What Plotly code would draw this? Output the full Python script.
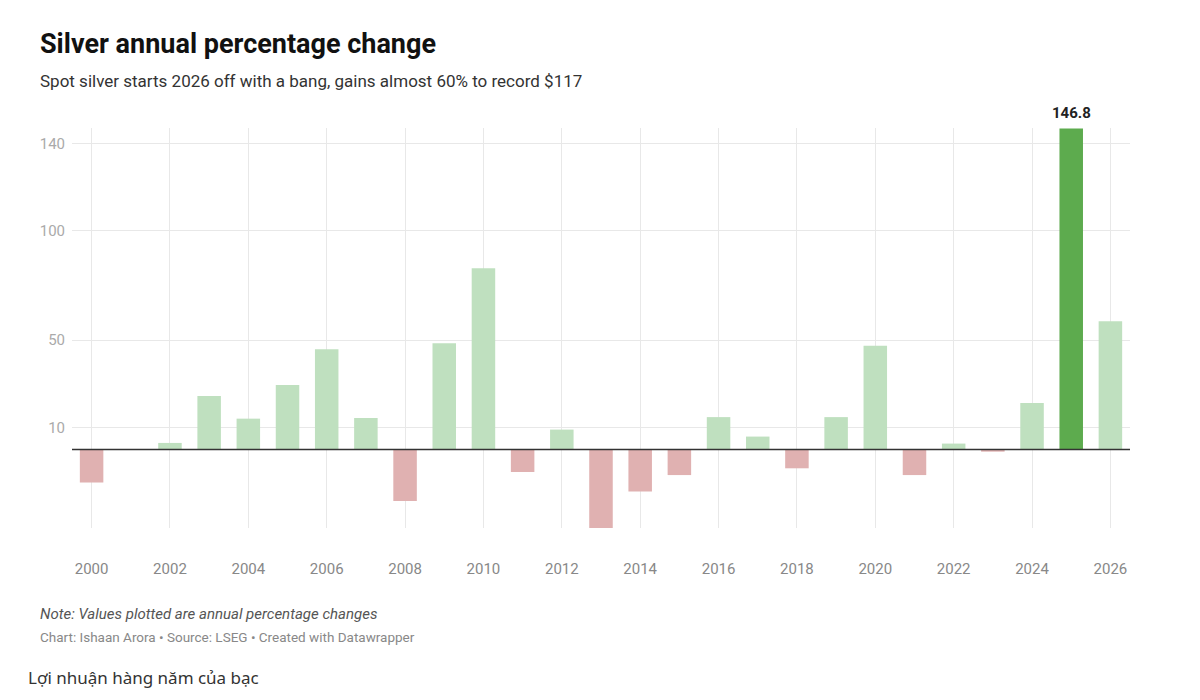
import plotly.graph_objects as go

# data
years = list(range(2000, 2027))
pct_change = [-15.1, 0.0, 3.0, 24.5, 14.1, 29.5, 45.8, 14.4, -23.6, 48.6,
              82.9, -10.3, 9.1, -35.9, -19.2, -11.7, 14.8, 5.9, -8.6, 14.8,
              47.4, -11.7, 2.7, -1.0, 21.2, 146.8, 58.6]
y_ticks = [10, 50, 100, 140]
x_ticks = list(range(2000, 2027, 2))
highlight_year = 2025

light_green = "#bfe0bf"
dark_green = "#5dab4e"
pink = "#e0b1b1"

colors = []
for yr, v in zip(years, pct_change):
    if yr == highlight_year:
        colors.append(dark_green)
    elif v >= 0:
        colors.append(light_green)
    else:
        colors.append(pink)

fig = go.Figure()
fig.add_trace(go.Bar(x=years, y=pct_change, marker=dict(color=colors, line=dict(width=0)),
                     width=0.6, hoverinfo="x+y"))

# label for the record year
hv = pct_change[years.index(highlight_year)]
fig.add_annotation(x=highlight_year, y=hv, text="<b>146.8</b>", showarrow=False,
                   yanchor="bottom", yshift=4, font=dict(family="Roboto", size=15, color="#222"))

# zero baseline
fig.add_shape(type="line", xref="paper", x0=0, x1=1, yref="y", y0=0, y1=0,
              line=dict(color="#333", width=1.5))

# page body has an 8px margin, so the figure is a bit smaller than the window
fig.update_layout(
    width=1184, height=684,
    plot_bgcolor="white", paper_bgcolor="white",
    margin=dict(l=64, r=62, t=120, b=164),
    showlegend=False,
    font=dict(family="Roboto", color="#333"),
    xaxis=dict(range=[1999.5, 2026.5], tickvals=x_ticks, ticks="", showgrid=True,
               gridcolor="#e8e8e8", gridwidth=1, zeroline=False, showline=False,
               tickfont=dict(size=15, color="#888"), ticklabelstandoff=30),
    yaxis=dict(range=[-35.9, 147], tickvals=y_ticks, ticks="", showgrid=True,
               gridcolor="#e8e8e8", gridwidth=1, zeroline=False, showline=False,
               tickfont=dict(size=15, color="#aaa"), ticklabelstandoff=6),
)


def note(text, yshift, size, color, top=False, xshift=-34, family="Roboto"):
    fig.add_annotation(xref="paper", yref="paper", x=0, y=1 if top else 0,
                       xshift=xshift, yshift=yshift, text=text,
                       xanchor="left", yanchor="middle", showarrow=False,
                       font=dict(family=family, size=size, color=color))


note("<b>Silver annual percentage change</b>", 84, 27, "#111", top=True)
note("Spot silver starts 2026 off with a bang, gains almost 60% to record $117", 47, 17, "#333", top=True)
note("<i>Note: Values plotted are annual percentage changes</i>", -86, 15, "#555")
note("Chart: Ishaan Arora • Source: LSEG • Created with Datawrapper", -109, 13.5, "#888")
note("Lợi nhuận hàng năm của bạc", -149, 17, "#333", xshift=-46, family="Noto Sans")

fig.write_html("out.html")
